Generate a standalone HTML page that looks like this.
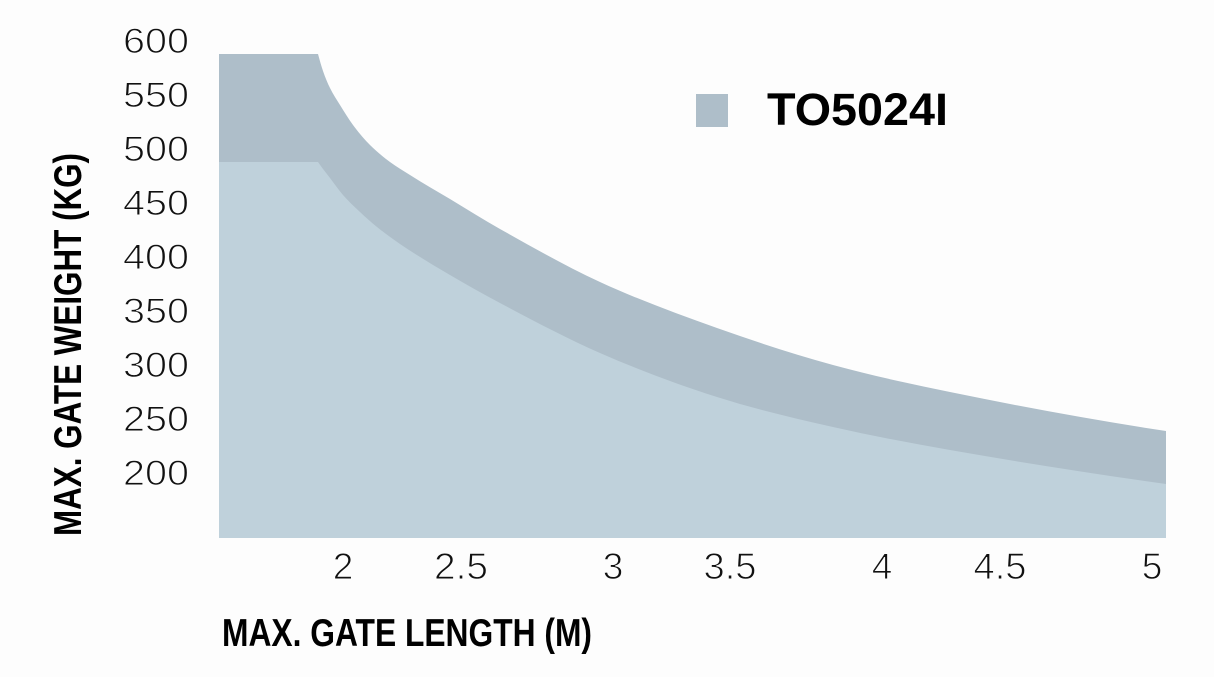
<!DOCTYPE html>
<html>
<head>
<meta charset="utf-8">
<style>
  html, body { margin: 0; padding: 0; background: #fdfdfd; }
  svg { display: block; }
</style>
</head>
<body>
<svg width="1214" height="677" viewBox="0 0 1214 677" xmlns="http://www.w3.org/2000/svg">
  <rect x="0" y="0" width="1214" height="677" fill="#fdfdfd"/>

  <!-- dark band (upper) -->
  <path fill="#aebec9" d="M219,54 L318,54
    C319.67,60 321.33,66.17 323,71
    C325.33,77.77 327.67,83.33 330,88
    C333.33,94.67 336.67,99.67 340,105
    C344.33,111.93 348.67,119.15 353,125
    C358.67,132.65 364.33,139.33 370,145
    C376.67,151.67 383.33,157 390,162
    C396.67,167 403.33,170.73 410,175
    C423.33,183.53 436.67,191 450,199
    C466.67,209 483.33,219.67 500,229
    C533.33,247.67 566.67,266.67 600,282
    C639,299.9 678,314.1 717,328
    C755.7,341.8 794.3,354.4 833,365
    C872,375.7 911,384 950,392
    C1022,406.8 1094,420.2 1166,431
    L1166,538 L219,538 Z"/>
  <!-- light band (lower) -->
  <path fill="#bfd1db" d="M219,162 L318,162
    C322,167.8 326,172.72 330,178
    C334.33,183.72 338.67,190.02 343,195
    C348.67,201.52 354.33,206.67 360,212
    C365.67,217.33 371.33,222.41 377,227
    C384.67,233.21 392.33,238.79 400,244
    C416.67,255.33 433.33,265.17 450,275
    C466.67,284.83 483.33,294.17 500,303
    C533.33,320.67 566.67,338.4 600,353
    C639,370.1 678,384.6 717,397
    C755.7,409.3 794.3,418.2 833,427
    C872,435.9 911,443.1 950,450
    C1022,462.7 1094,473.9 1166,484
    L1166,538 L219,538 Z"/>

  <!-- Y tick labels -->
  <g font-family="Liberation Sans, Arial, sans-serif" font-size="35" fill="#111" text-anchor="end" stroke="#fdfdfd" stroke-width="1">
    <text x="189" y="53" textLength="66" lengthAdjust="spacingAndGlyphs">600</text>
    <text x="189" y="107" textLength="66" lengthAdjust="spacingAndGlyphs">550</text>
    <text x="189" y="161" textLength="66" lengthAdjust="spacingAndGlyphs">500</text>
    <text x="189" y="215" textLength="66" lengthAdjust="spacingAndGlyphs">450</text>
    <text x="189" y="269" textLength="66" lengthAdjust="spacingAndGlyphs">400</text>
    <text x="189" y="323" textLength="66" lengthAdjust="spacingAndGlyphs">350</text>
    <text x="189" y="377" textLength="66" lengthAdjust="spacingAndGlyphs">300</text>
    <text x="189" y="431" textLength="66" lengthAdjust="spacingAndGlyphs">250</text>
    <text x="189" y="485" textLength="66" lengthAdjust="spacingAndGlyphs">200</text>
  </g>

  <!-- X tick labels -->
  <g font-family="Liberation Sans, Arial, sans-serif" font-size="37" fill="#111" text-anchor="middle" stroke="#fdfdfd" stroke-width="1">
    <text x="343" y="579">2</text>
    <text x="461" y="579" textLength="54" lengthAdjust="spacingAndGlyphs">2.5</text>
    <text x="613" y="579">3</text>
    <text x="730" y="579" textLength="53" lengthAdjust="spacingAndGlyphs">3.5</text>
    <text x="882" y="579">4</text>
    <text x="1000" y="579" textLength="53" lengthAdjust="spacingAndGlyphs">4.5</text>
    <text x="1152" y="579">5</text>
  </g>

  <!-- X axis title -->
  <text x="222" y="646" font-family="Liberation Sans, Arial, sans-serif" font-weight="bold" font-size="39" fill="#000" textLength="370" lengthAdjust="spacingAndGlyphs">MAX. GATE LENGTH (M)</text>

  <!-- Y axis title -->
  <text transform="translate(81,536) rotate(-90)" x="0" y="0" font-family="Liberation Sans, Arial, sans-serif" font-weight="bold" font-size="39" fill="#000" textLength="383" lengthAdjust="spacingAndGlyphs">MAX. GATE WEIGHT (KG)</text>

  <!-- Legend -->
  <rect x="696" y="94" width="32" height="33" fill="#aebec9"/>
  <text x="767" y="125" font-family="Liberation Sans, Arial, sans-serif" font-weight="bold" font-size="45" fill="#000" textLength="181" lengthAdjust="spacingAndGlyphs">TO5024I</text>
</svg>
</body>
</html>
